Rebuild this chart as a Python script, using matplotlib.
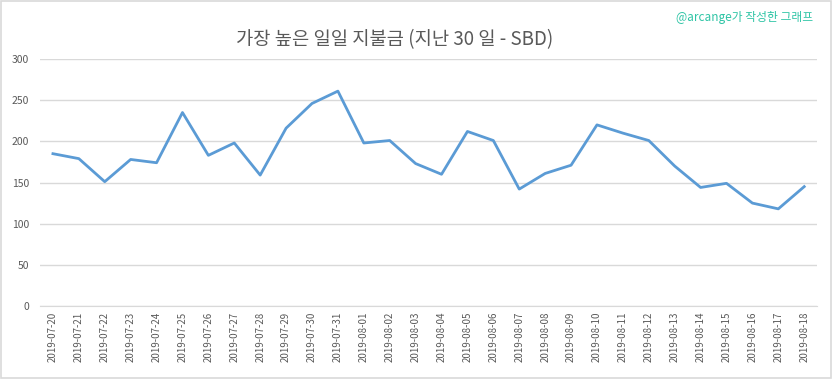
import matplotlib
matplotlib.use("Agg")
import matplotlib.pyplot as plt
from matplotlib.patches import Rectangle

plt.rcParams['font.family'] = ['Noto Sans CJK KR', 'DejaVu Sans']

dates = [
    "2019-07-20", "2019-07-21", "2019-07-22", "2019-07-23", "2019-07-24",
    "2019-07-25", "2019-07-26", "2019-07-27", "2019-07-28", "2019-07-29",
    "2019-07-30", "2019-07-31", "2019-08-01", "2019-08-02", "2019-08-03",
    "2019-08-04", "2019-08-05", "2019-08-06", "2019-08-07", "2019-08-08",
    "2019-08-09", "2019-08-10", "2019-08-11", "2019-08-12", "2019-08-13",
    "2019-08-14", "2019-08-15", "2019-08-16", "2019-08-17", "2019-08-18",
]
payouts = [185, 179, 151, 178, 174, 235, 183, 198, 159, 216,
           246, 261, 198, 201, 173, 160, 212, 201, 142, 161,
           171, 220, 210, 201, 170, 144, 149, 125, 118, 145]
yticks = [0, 50, 100, 150, 200, 250, 300]

title = "가장 높은 일일 지불금 (지난 30 일 - SBD)"
credit = "@arcange가 작성한 그래프"

fig = plt.figure(figsize=(8.33, 3.79), dpi=100)
ax = fig.add_axes([0.048, 0.1926, 0.933, 0.6517])

x = range(len(dates))
ax.plot(x, payouts, color="#5b9bd5", lw=2)

ax.set_xlim(-0.5, len(dates) - 0.5)
ax.set_ylim(0, 300)
ax.set_yticks(yticks)
ax.set_xticks(list(x))
ax.set_xticklabels(dates, rotation=90, fontsize=7, color="#595959")
ax.tick_params(axis="y", labelsize=7.5, colors="#595959", length=0, pad=8)
ax.tick_params(axis="x", length=0, pad=4)
ax.grid(axis="y", color="#d9d9d9", lw=1)
ax.set_axisbelow(True)
for s in ["top", "right", "left"]:
    ax.spines[s].set_visible(False)
ax.spines["bottom"].set_color("#d9d9d9")

fig.text(0.474, 0.895, title, ha="center", va="center", fontsize=13.5, color="#595959")
fig.text(0.976, 0.955, credit, ha="right", va="center", fontsize=8.5, color="#2ec4a5")

fig.patches.append(Rectangle((0.001, 0.002), 0.997, 0.995, transform=fig.transFigure,
                             fill=False, edgecolor="#d9d9d9", lw=1.2))

fig.savefig("out.png", dpi=100)
